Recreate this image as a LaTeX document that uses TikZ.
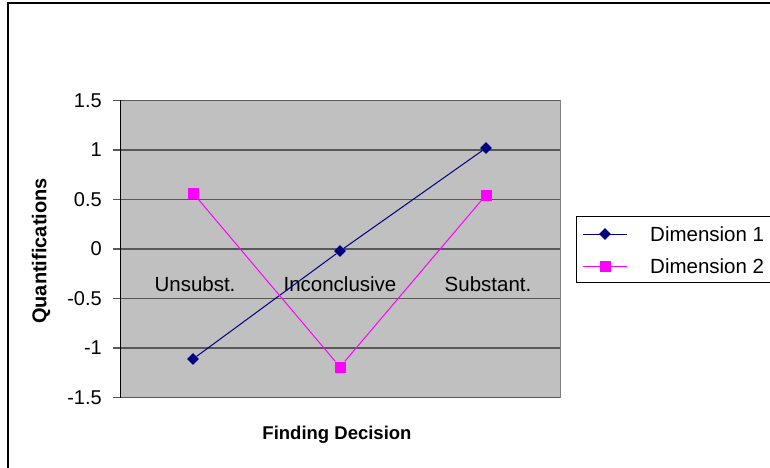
\documentclass[tikz,border=0pt]{standalone}
\usepackage{fontspec}
\setmainfont{Liberation Sans}
\usetikzlibrary{positioning,shapes.geometric}
\definecolor{plotgray}{RGB}{192,192,192}
\definecolor{gridgray}{RGB}{88,88,88}
\definecolor{dimnavy}{RGB}{0,0,128}
\definecolor{dimpink}{RGB}{255,0,255}
\tikzset{
  ticklabel/.style={font=\fontsize{20}{24}\selectfont,anchor=east,inner sep=0pt},
  catlabel/.style={font=\fontsize{20.5}{24}\selectfont,inner sep=0pt},
  axtitle/.style={font=\fontsize{18.5}{22}\selectfont\bfseries,inner sep=0pt},
  dmark/.style={diamond,fill=dimnavy,inner sep=0pt,minimum width=12pt,minimum height=12pt},
  smark/.style={rectangle,fill=dimpink,inner sep=0pt,minimum size=11pt},
}
\begin{document}
\begin{tikzpicture}[x=1pt,y=-1pt]
  \useasboundingbox (0,0) rectangle (770,467);
  % chart frame and plot area
  \draw[line width=1.6pt] (8,3) rectangle (790,490);
  \fill[plotgray] (120,100) rectangle (560,398);
  \draw[gray,line width=1pt] (120,100) -- (560,100) -- (560,398);
  \foreach \v in {-1.5,-1,-0.5,0,0.5,1,1.5} {
    \draw[gridgray,line width=1.3pt] (113,{249-99*\v}) -- (560,{249-99*\v});
    \node[ticklabel] at (102,{249-99*\v}) {\v};
  }
  \draw[line width=1pt] (120,100) -- (120,398);
  % category labels and axis titles
  \node[catlabel] (unsub) at (195,284) {Unsubst.};
  \node[catlabel] (incon) at (340,284) {Inconclusive};
  \node[catlabel] (subst) at (488,284) {Substant.};
  \node[axtitle] (xtitle) at (337,435) {Finding Decision};
  \node[axtitle,font=\fontsize{20}{24}\selectfont\bfseries,rotate=90] (ytitle) at (41,251) {Quantifications};
  % data
  \node[dmark] (d1u) at (193,359) {};
  \node[dmark] (d1i) at (340,251) {};
  \node[dmark] (d1s) at (486,148) {};
  \node[smark] (d2u) at (193,193) {};
  \node[smark] (d2i) at (340,367) {};
  \node[smark] (d2s) at (486,195) {};
  \draw[dimnavy,line width=1pt] (d1u) -- (d1i) -- (d1s);
  \draw[dimpink,line width=1pt] (d2u) -- (d2i) -- (d2s);
  % legend
  \node[draw,line width=1pt,anchor=north west,minimum width=220pt,minimum height=66pt] (legend) at (576,216) {};
  \coordinate (k1a) at (583,234);
  \coordinate (k1b) at (627,234);
  \coordinate (k2a) at (583,266);
  \coordinate (k2b) at (627,266);
  \draw[dimnavy,line width=1pt] (k1a) -- (k1b);
  \draw[dimpink,line width=1pt] (k2a) -- (k2b);
  \node[dmark] (key1) at (605,234) {};
  \node[smark] (key2) at (605,266) {};
  \node[catlabel,anchor=west] (lab1) at (650,234) {Dimension 1};
  \node[catlabel,anchor=west] (lab2) at (650,266) {Dimension 2};
\end{tikzpicture}
\end{document}
